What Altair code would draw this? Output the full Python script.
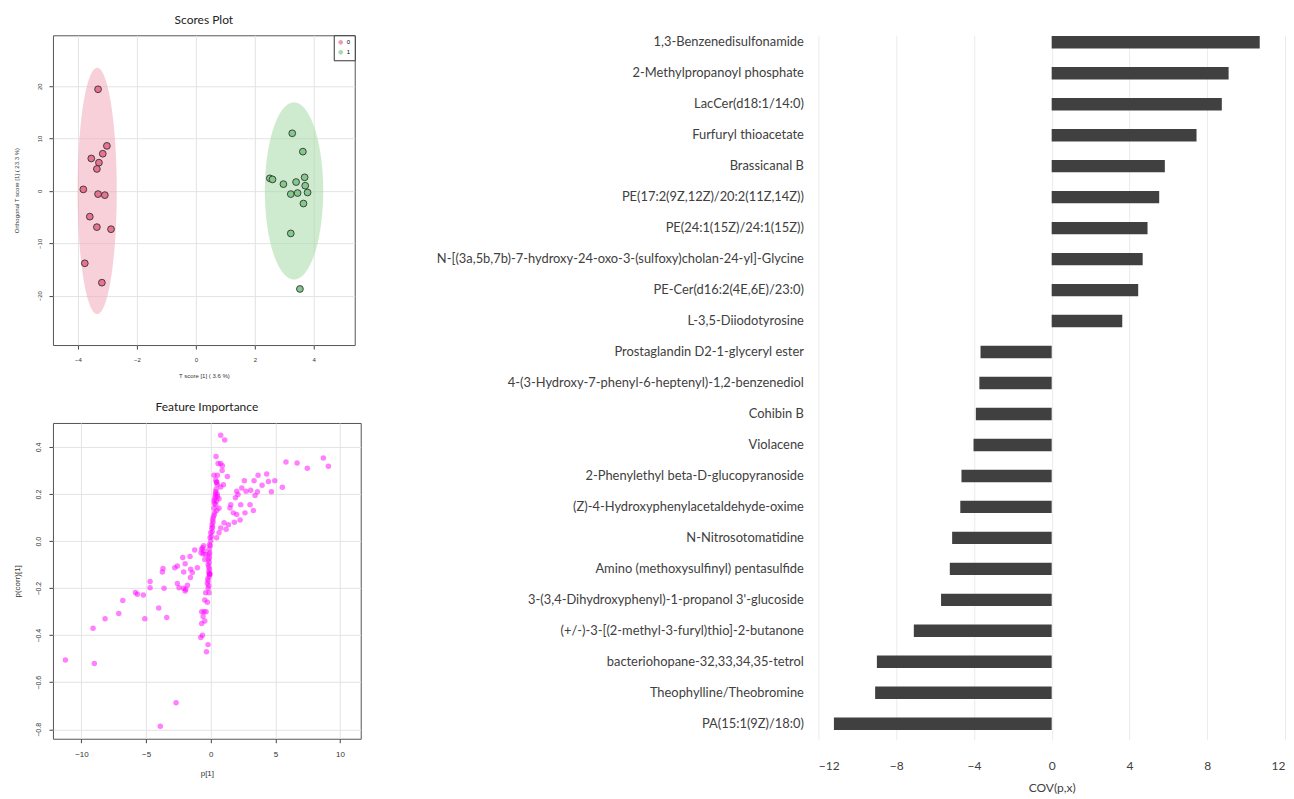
import altair as alt
import pandas as pd
import numpy as np

# ---------------- Scores plot data ----------------
g0_x = [-3.32, -3.02, -3.16, -3.55, -3.29, -3.36, -3.82, -3.32, -3.09, -3.60, -3.36, -2.88, -3.77, -3.19]
g0_y = [19.4, 8.6, 7.1, 6.2, 5.4, 4.2, 0.3, -0.6, -0.8, -4.9, -6.9, -7.3, -13.8, -17.5]
g1_x = [3.27, 3.63, 2.51, 2.60, 3.69, 2.97, 3.40, 3.71, 3.22, 3.45, 3.79, 3.65, 3.22, 3.53]
g1_y = [11.0, 7.5, 2.4, 2.2, 2.6, 1.3, 1.7, 1.0, -0.6, -0.4, -0.3, -2.4, -8.1, -18.7]
groups = ["0", "1"]
point_colors = ["#E8738F", "#84C98C"]
ellipse_colors = ["#F3A9BC", "#A8DBA8"]
ell_cx = [-3.35, 3.33]
ell_cy = [0.0, 0.0]
ell_ax = [0.665, 0.99]
ell_ay = [23.5, 16.9]

# ---------------- Feature importance data ----------------
fx = [0.77, 1.08, 0.41, 0.57, 0.77, 0.90, 0.88, 0.26, 0.52, 1.29, 0.98, 0.77, 0.39, 0.46,
      0.36, 0.52, 0.64, 0.26, 0.39, 0.64, 0.46, 0.26, 0.15, 0.10, 0.08, 0.00, -0.05, -0.10,
      -0.13, -0.15, -0.18, -0.20, -0.15, -0.10, -0.23, -0.26, -0.20, -0.13, -0.39, -0.46,
      -0.26, -0.70, -0.52, -0.36, -0.59, -0.46, -0.70, -0.64, -0.77, -0.21, -0.33,
      5.82, 6.68, 7.47, 8.71, 9.10, 5.54, 4.69, 4.95, 4.46, 4.33, 3.97, 3.66, 3.35, 3.61,
      3.43, 3.09, 2.73, 2.60, 2.40, 2.01, 1.91, 2.11, 1.55, 1.49, 2.32, 3.04, 3.30, 2.65,
      1.75, 2.01, 2.27, 1.83, 1.37, 1.03, 0.77, 1.19, 0.64, 0.46,
      -1.24, -0.64, -0.52, -0.39, -0.46, -2.16, -1.60, -1.98, -2.78, -2.58, -1.55, -1.42,
      -1.03, -2.09, -3.69, -3.74, -1.57, -2.58, -2.45, -2.11, -1.93, -1.80, -1.98, -3.61,
      -4.69, -4.69, -5.82, -5.67, -5.21, -6.80, -8.17, -7.11, -5.10, -3.40, -4.02, -9.10,
      -11.24, -9.00, -2.68, -3.90,
      0.45, 0.50, 0.42, 0.38, 0.50, 0.35, 0.30, 0.45, 0.28, 0.25, 0.30, 0.20, 0.18, 0.15,
      0.12, 0.05, 0.00, -0.03, -0.08, -0.10, -0.12, -0.10, -0.15, -0.12, -0.20, -0.15,
      -0.10, -0.05, -0.70, -0.55, -0.60, -0.75]
fy = [0.45, 0.43, 0.36, 0.33, 0.33, 0.32, 0.30, 0.28, 0.28, 0.275, 0.24, 0.23, 0.26, 0.25,
      0.20, 0.19, 0.18, 0.17, 0.155, 0.14, 0.13, 0.11, 0.09, 0.07, 0.055, 0.035, 0.015, -0.015,
      -0.035, -0.057, -0.078, -0.10, -0.11, -0.14, -0.16, -0.18, -0.20, -0.22, -0.22, -0.25,
      -0.26, -0.30, -0.30, -0.30, -0.32, -0.34, -0.35, -0.40, -0.41, -0.44, -0.47,
      0.336, 0.332, 0.31, 0.353, 0.318, 0.229, 0.21, 0.257, 0.253, 0.285, 0.237, 0.28, 0.257, 0.21,
      0.194, 0.216, 0.212, 0.257, 0.226, 0.212, 0.184, 0.198, 0.155, 0.141, 0.155, 0.155, 0.13, 0.12,
      0.12, 0.113, 0.09, 0.08, 0.07, 0.078, 0.056, 0.05, 0.035, 0.014,
      -0.038, -0.028, -0.042, -0.057, -0.078, -0.07, -0.065, -0.096, -0.113, -0.106, -0.12, -0.134,
      -0.113, -0.131, -0.116, -0.131, -0.155, -0.18, -0.198, -0.20, -0.205, -0.188, -0.212, -0.20,
      -0.172, -0.198, -0.218, -0.226, -0.229, -0.252, -0.33, -0.308, -0.33, -0.325, -0.284, -0.37,
      -0.505, -0.52, -0.687, -0.787,
      0.25, 0.24, 0.22, 0.21, 0.20, 0.19, 0.18, 0.17, 0.16, 0.14, 0.12, 0.10, 0.08, 0.06,
      0.04, 0.02, 0.00, -0.02, -0.05, -0.07, -0.09, -0.12, -0.13, -0.15, -0.17, -0.19,
      -0.14, -0.14, -0.035, -0.02, -0.055, -0.05]

# ---------------- Bar chart data ----------------
compounds = [
    "1,3-Benzenedisulfonamide",
    "2-Methylpropanoyl phosphate",
    "LacCer(d18:1/14:0)",
    "Furfuryl thioacetate",
    "Brassicanal B",
    "PE(17:2(9Z,12Z)/20:2(11Z,14Z))",
    "PE(24:1(15Z)/24:1(15Z))",
    "N-[(3a,5b,7b)-7-hydroxy-24-oxo-3-(sulfoxy)cholan-24-yl]-Glycine",
    "PE-Cer(d16:2(4E,6E)/23:0)",
    "L-3,5-Diiodotyrosine",
    "Prostaglandin D2-1-glyceryl ester",
    "4-(3-Hydroxy-7-phenyl-6-heptenyl)-1,2-benzenediol",
    "Cohibin B",
    "Violacene",
    "2-Phenylethyl beta-D-glucopyranoside",
    "(Z)-4-Hydroxyphenylacetaldehyde-oxime",
    "N-Nitrosotomatidine",
    "Amino (methoxysulfinyl) pentasulfide",
    "3-(3,4-Dihydroxyphenyl)-1-propanol 3'-glucoside",
    "(+/-)-3-[(2-methyl-3-furyl)thio]-2-butanone",
    "bacteriohopane-32,33,34,35-tetrol",
    "Theophylline/Theobromine",
    "PA(15:1(9Z)/18:0)",
]
cov_values = [10.7, 9.1, 8.75, 7.45, 5.82, 5.53, 4.93, 4.68, 4.45, 3.63,
              -3.66, -3.72, -3.9, -4.02, -4.64, -4.7, -5.12, -5.24, -5.69,
              -7.09, -8.99, -9.08, -11.2]
cov_ticks = [-12, -8, -4, 0, 4, 8, 12]

R_FONT = "Liberation Sans"
TXT = "#333333"

# ---------------- Scores plot ----------------
pts = pd.DataFrame({
    "x": g0_x + g1_x,
    "y": g0_y + g1_y,
    "group": [groups[0]] * len(g0_x) + [groups[1]] * len(g1_x),
})

t = np.linspace(0, np.pi, 121)
ell_layers = []
for i in range(2):
    edf = pd.DataFrame({
        "x": ell_cx[i] + ell_ax[i] * np.cos(t),
        "y": ell_cy[i] + ell_ay[i] * np.sin(t),
        "y2": ell_cy[i] - ell_ay[i] * np.sin(t),
    })
    ell_layers.append(
        alt.Chart(edf).mark_area(color=ellipse_colors[i], opacity=0.55).encode(
            x=alt.X("x:Q"), y=alt.Y("y:Q"), y2="y2:Q"
        )
    )

sx = alt.Scale(domain=[-4.85, 5.39], nice=False, zero=False)
sy = alt.Scale(domain=[-29.4, 29.7], nice=False, zero=False)
ax_x = alt.Axis(values=[-4, -2, 0, 2, 4], grid=True, gridColor="#e3e3e3", domain=False,
                tickSize=4, tickColor="#444", labelFontSize=6, labelFont=R_FONT, labelColor=TXT,
                labelPadding=7, title="T score [1] ( 3.6 %)", titleFontSize=6, titleFont=R_FONT,
                titleFontWeight="normal", titleColor=TXT, titlePadding=10)
ax_y = alt.Axis(values=[-20, -10, 0, 10, 20], grid=True, gridColor="#e3e3e3", domain=False,
                tickSize=4, tickColor="#444", labelFontSize=6, labelFont=R_FONT, labelColor=TXT,
                labelAngle=-90, labelAlign="center", labelBaseline="bottom", labelPadding=6,
                title="Orthogonal T score [1] ( 23.3 %)", titleFontSize=6, titleFont=R_FONT,
                titleFontWeight="normal", titleColor=TXT, titlePadding=17)

grid_layer = alt.Chart(pts).mark_point(opacity=0).encode(
    x=alt.X("x:Q", scale=sx, axis=ax_x), y=alt.Y("y:Q", scale=sy, axis=ax_y)
)
legend_layer = alt.Chart(pts).mark_point(filled=False, size=20, strokeWidth=1).encode(
    x="x:Q", y="y:Q",
    stroke=alt.Stroke("group:N", scale=alt.Scale(domain=groups, range=point_colors),
                      legend=alt.Legend(title=None, orient="none", legendX=281, legendY=0,
                                        padding=4, strokeColor="#333", labelFontSize=6,
                                        labelFont=R_FONT, symbolSize=14, symbolStrokeWidth=1,
                                        rowPadding=2, labelOffset=3, fillColor="white")),
)
point_layer = alt.Chart(pts).mark_point(filled=True, size=46, stroke="#333333", strokeWidth=0.9, opacity=1).encode(
    x="x:Q", y="y:Q",
    fill=alt.Fill("group:N", scale=alt.Scale(domain=groups, range=point_colors), legend=None),
)
scores = alt.layer(grid_layer, *ell_layers, legend_layer, point_layer).properties(
    width=302, height=310,
    title=alt.TitleParams("Scores Plot", font="Lato", fontSize=12, fontWeight="normal",
                          color="#222", offset=8),
    view=alt.ViewBackground(stroke="#555555", strokeWidth=1),
)

# ---------------- Feature importance ----------------
fdf = pd.DataFrame({"p": fx, "pcorr": fy})
feat = alt.Chart(fdf).mark_circle(color="#FF00FF", opacity=0.5, size=30).encode(
    x=alt.X("p:Q", scale=alt.Scale(domain=[-12.2, 11.6], nice=False, zero=False),
            axis=alt.Axis(values=[-10, -5, 0, 5, 10], grid=True, gridColor="#e3e3e3", domain=False,
                          tickSize=4, tickColor="#444", labelFontSize=8, labelFont=R_FONT,
                          labelColor=TXT, labelPadding=8, title="p[1]", titleFontSize=8,
                          titleFont=R_FONT, titleFontWeight="normal", titleColor=TXT,
                          titlePadding=11)),
    y=alt.Y("pcorr:Q", scale=alt.Scale(domain=[-0.84, 0.502], nice=False, zero=False),
            axis=alt.Axis(values=[-0.8, -0.6, -0.4, -0.2, 0.0, 0.2, 0.4], format=".1f", grid=True,
                          gridColor="#e3e3e3", domain=False, tickSize=4, tickColor="#444",
                          labelFontSize=7, labelFont=R_FONT, labelColor=TXT, labelAngle=-90,
                          labelAlign="center", labelBaseline="bottom", labelPadding=7,
                          title="p(corr)[1]", titleFontSize=8, titleFont=R_FONT,
                          titleFontWeight="normal", titleColor=TXT, titlePadding=13)),
).properties(
    width=308, height=316,
    title=alt.TitleParams("Feature Importance", font="Lato", fontSize=12, fontWeight="normal",
                          color="#222", offset=9),
    view=alt.ViewBackground(stroke="#555555", strokeWidth=1),
)

# ---------------- Bar chart ----------------
bdf = pd.DataFrame({"name": compounds, "value": cov_values})
bars = alt.Chart(bdf).mark_bar(color="#404040").encode(
    x=alt.X("value:Q", scale=alt.Scale(domain=[-12, 12], nice=False),
            axis=alt.Axis(values=cov_ticks, grid=True, gridColor="#ebebeb", domain=False, ticks=False,
                          labelFontSize=12, labelFont="Lato", labelColor="#404040", labelPadding=21,
                          title="COV(p,x)", titleFontSize=12, titleFont="Lato",
                          titleFontWeight="normal", titleColor="#404040", titlePadding=11)),
    y=alt.Y("name:N", sort=None,
            scale=alt.Scale(paddingInner=0.6, paddingOuter=0.171, align=0.075),
            axis=alt.Axis(title=None, domain=False, ticks=False, grid=False, labelFontSize=12.9,
                          labelFont="Lato", labelColor="#404040", labelPadding=15, labelLimit=0)),
).properties(
    width=467, height=705,
    view=alt.ViewBackground(stroke="transparent"),
)

left = alt.vconcat(scores, feat, spacing=21)
chart = alt.hconcat(left, bars, spacing=74).properties(
    padding={"left": 5, "top": 5, "right": 0, "bottom": 0}
)

chart.save("out.html", embed_options={"renderer": "svg", "actions": False})
